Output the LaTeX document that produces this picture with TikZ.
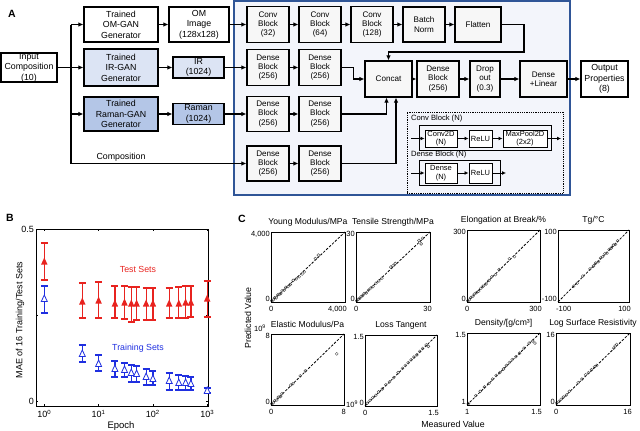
\documentclass[tikz,border=0pt]{standalone}
\usepackage{fontspec}
\setmainfont{Liberation Sans}
\usetikzlibrary{arrows.meta}
\definecolor{irfill}{HTML}{DCE4F4}
\definecolor{ramfill}{HTML}{B4C6E7}
\definecolor{bigfill}{HTML}{F3F5FB}
\definecolor{bigdraw}{HTML}{2F5597}
\definecolor{tred}{HTML}{E8231F}
\definecolor{tblue}{HTML}{1F2FE0}
\definecolor{blkfill}{HTML}{F7F7F7}
\newcommand\scatplot[8]{%
  \draw[diagl] (#1,#4) -- (#2,#3);
  \foreach \t/\s in {#8} {\draw[ptc] ({#1+\t*(#2-#1)},{#4-\s*(#4-#3)}) circle (1.5pt);}
  \draw[line width=0.9pt] (#1,#3) rectangle (#2,#4);
  \node[ttl] at ({(#1+#2)/2},{#3-10}) {#5};
  \node[tkl, anchor=east] at ({#1-1},{#3+2}) {#6};
  \node[tkl, anchor=east] at ({#1-1},{#4-3}) {#7};
  \node[tkl, anchor=west] at ({#1-2},{#4+7}) {#7};
  \node[tkl, anchor=east] at ({#2+2},{#4+7}) {#6};
}
\begin{document}
\begin{tikzpicture}[x=1pt,y=-1pt,
  box/.style={draw, line width=1.1pt, fill=white, align=center, inner sep=0pt, font=\fontsize{8.8}{10.6}\selectfont},
  blk/.style={draw, line width=1.1pt, fill=blkfill, align=center, inner sep=0pt, font=\fontsize{8.1}{9.4}\selectfont, minimum width=42pt, minimum height=36pt},
  sml/.style={draw, line width=1pt, fill=white, align=center, inner sep=0pt, font=\fontsize{7.5}{8.5}\selectfont, minimum height=17pt},
  arr/.style={line width=1.2pt, -{Latex[length=5pt,width=4.5pt]}},
  sarr/.style={line width=1pt, -{Latex[length=4pt,width=4pt]}},
  ln/.style={line width=1.2pt},
  lbl/.style={font=\bfseries\fontsize{10.5}{12}\selectfont, inner sep=0pt},
  diagl/.style={line width=0.8pt, dash pattern=on 2.5pt off 1.5pt},
  ptc/.style={draw=black!70, line width=0.4pt},
  ttl/.style={font=\fontsize{8.6}{10}\selectfont, inner sep=0pt},
  tkl/.style={font=\fontsize{7.5}{8}\selectfont, inner sep=0pt},
  axl/.style={font=\fontsize{9}{10}\selectfont, inner sep=0pt}]
\useasboundingbox (0,0) rectangle (640,431);

% ---------------- Panel A ----------------
\node[lbl] (lA) at (12,14) {A};
\node[box, minimum width=56pt, minimum height=29pt] (inp) at (29,67.5) {Input\\Composition\\(10)};
\node[box, minimum width=74pt, minimum height=35pt] (omgan) at (121,24.5) {Trained\\OM-GAN\\Generator};
\node[box, minimum width=60pt, minimum height=35pt] (omimg) at (199,24.5) {OM\\Image\\(128x128)};
\node[box, fill=irfill, minimum width=74pt, minimum height=37pt] (irgan) at (121,67.5) {Trained\\IR-GAN\\Generator};
\node[box, fill=irfill, minimum width=51pt, minimum height=21pt] (ir) at (198.5,67.5) {IR\\(1024)};
\node[box, fill=ramfill, minimum width=74pt, minimum height=34pt] (ramgan) at (121,114) {Trained\\Raman-GAN\\Generator};
\node[box, fill=ramfill, minimum width=51pt, minimum height=21pt] (raman) at (198.5,114) {Raman\\(1024)};

\node[draw=bigdraw, fill=bigfill, line width=2pt, minimum width=336pt, minimum height=194pt, inner sep=0pt] (big) at (402,98) {};

\node[blk] (c1) at (268,24.5) {Conv\\Block\\(32)};
\node[blk] (c2) at (320,24.5) {Conv\\Block\\(64)};
\node[blk] (c3) at (372,24.5) {Conv\\Block\\(128)};
\node[blk, minimum height=35pt] (bn) at (424,24.5) {Batch\\Norm};
\node[blk, minimum width=46pt, minimum height=35pt] (fl) at (478,24.5) {Flatten};
\node[blk] (d1a) at (268,67.5) {Dense\\Block\\(256)};
\node[blk] (d1b) at (320,67.5) {Dense\\Block\\(256)};
\node[blk, minimum height=35pt] (d2a) at (268,114) {Dense\\Block\\(256)};
\node[blk, minimum height=35pt] (d2b) at (320,114) {Dense\\Block\\(256)};
\node[blk, minimum height=35pt] (d3a) at (268,163.5) {Dense\\Block\\(256)};
\node[blk, minimum height=35pt] (d3b) at (320,163.5) {Dense\\Block\\(256)};
\node[blk, minimum width=47pt] (cc) at (388.5,79) {Concat};
\node[blk] (db) at (438,79) {Dense\\Block\\(256)};
\node[blk, minimum width=30pt] (dr) at (485,79) {Drop\\out\\(0.3)};
\node[blk, minimum width=47pt] (dl) at (543.5,79) {Dense\\+Linear};
\node[box, minimum width=47pt, minimum height=36pt] (out) at (604.5,79) {Output\\Properties\\(8)};

\coordinate (vt) at (71,24.5);
\coordinate (vb) at (71,163.5);
\draw[ln] (vt) -- (vb);
\draw[arr] (inp.east) -- (irgan.west);
\draw[arr] (vt) -- (omgan.west);
\draw[arr] (vt |- ramgan.west) -- (ramgan.west);
\draw[arr] (vb) -- (d3a.west);
\node[font=\fontsize{8.8}{10}\selectfont, inner sep=0pt] (comp) at (121,157) {Composition};
\draw[arr] (omgan) -- (omimg);
\draw[arr] (irgan) -- (ir);
\draw[arr] (ramgan) -- (raman);
\draw[arr] (omimg) -- (c1);
\draw[arr] (ir) -- (d1a);
\draw[arr] (raman) -- (d2a);
\draw[arr] (c1) -- (c2);
\draw[arr] (c2) -- (c3);
\draw[arr] (c3) -- (bn);
\draw[arr] (bn) -- (fl);
\coordinate (fk1) at (524,52);
\draw[arr] (fl.east) -| (fk1) -| (cc.north);
\draw[arr] (d1b.east) -- ++(12,0) |- (cc.west);
\draw[arr] (d2b.east) -| ([xshift=-2pt]cc.south);
\draw[arr] (d3b.east) -| ([xshift=7.5pt]cc.south);
\draw[arr] (d1a) -- (d1b);
\draw[arr] (d2a) -- (d2b);
\draw[arr] (d3a) -- (d3b);
\draw[arr] (cc) -- (db);
\draw[arr] (db) -- (dr);
\draw[arr] (dr) -- (dl);
\draw[arr] (dl) -- (out);

\node[draw, densely dotted, line width=0.8pt, minimum width=156pt, minimum height=81pt, inner sep=0pt] (dot) at (485,152.5) {};
\node[anchor=west, font=\fontsize{7.6}{8.5}\selectfont, inner sep=0pt] (cbl) at (411,119) {Conv Block (N)};
\node[draw, line width=1pt, minimum width=132pt, minimum height=25pt, inner sep=0pt] (cbo) at (485,137.5) {};
\node[sml, minimum width=32pt] (cv) at (441,138.5) {Conv2D\\(N)};
\node[sml, minimum width=23pt] (r1) at (480.5,138.5) {ReLU};
\node[sml, minimum width=44pt] (mp) at (525,138.5) {MaxPool2D\\(2x2)};
\coordinate (cin) at (411,138.5);
\coordinate (cout) at (561,138.5);
\draw[sarr] (cin) -- (cv);
\draw[sarr] (cv) -- (r1);
\draw[sarr] (r1) -- (mp);
\draw[sarr] (mp) -- (cout);
\node[anchor=west, font=\fontsize{7.6}{8.5}\selectfont, inner sep=0pt] (dbl) at (411,155) {Dense Block (N)};
\node[draw, line width=1pt, minimum width=81pt, minimum height=25pt, inner sep=0pt] (dbo) at (459.5,172.5) {};
\node[sml, minimum width=32pt, minimum height=20pt] (dn) at (441,173) {Dense\\(N)};
\node[sml, minimum width=23pt, minimum height=20pt] (r2) at (480.5,173) {ReLU};
\coordinate (din) at (411,173);
\coordinate (dout) at (506,173);
\draw[sarr] (din) -- (dn);
\draw[sarr] (dn) -- (r2);
\draw[sarr] (r2) -- (dout);

% ---------------- Panel B ----------------
\node[lbl] (lB) at (10,218) {B};
\draw[line width=0.8pt] (36,229) rectangle (208,406);
\foreach \yy in {229,315,401} {\draw[line width=0.6pt] (36,\yy) -- (38,\yy) (208,\yy) -- (206,\yy);}
\foreach \xx in {44.3,98.6,152.9,207.2} {\draw[line width=0.6pt] (\xx,406) -- (\xx,404) (\xx,229) -- (\xx,231);}
\node[axl, anchor=east] at (34,229) {0.5};
\node[axl, anchor=east] at (34,401) {0};
\node[axl] at (44.3,414) {10\textsuperscript{0}};
\node[axl] at (98.6,414) {10\textsuperscript{1}};
\node[axl] at (152.9,414) {10\textsuperscript{2}};
\node[axl] at (207.2,414) {10\textsuperscript{3}};
\node[axl, font=\fontsize{9.5}{11}\selectfont] at (121,426) {Epoch};
\node[axl, rotate=90] at (20,320) {MAE of 16 Training/Test Sets};
\node[axl, text=tred, font=\fontsize{8.8}{10}\selectfont] at (138,269) {Test Sets};
\node[axl, text=tblue, font=\fontsize{8.8}{10}\selectfont] at (138,348) {Training Sets};
\foreach \x/\m/\lo/\hi in {44.3/262/243/280, 82.3/302/283/318, 98.6/301/282/318, 114.9/304/286/318, 124.5/303/286/319, 131.3/304/287/322, 136.6/304/287/320, 146.1/304/288/320, 152.9/304/288/320, 169.2/304/288/318, 178.8/304/287/318, 185.6/303/286/318, 190.9/303/286/317, 207.2/299/281/317}{
  \draw[tred, line width=1.2pt] (\x,\lo) -- (\x,\hi) ({\x-3.5},\lo) -- ({\x+3.5},\lo) ({\x-3.5},\hi) -- ({\x+3.5},\hi);
  \fill[tred] (\x,{\m-4.5}) -- ({\x+3.2},{\m+2.5}) -- ({\x-3.2},{\m+2.5}) -- cycle;
}
\foreach \x/\m/\lo/\hi in {44.3/299/286/313, 82.3/354/345/362, 98.6/364/355/371, 114.9/369/361/377, 124.5/370/363/377, 131.3/373/365/382, 136.6/374/366/382, 146.1/377/369/385, 152.9/379/371/385, 169.2/381/373/390, 178.8/383/375/390, 185.6/383/376/390, 190.9/384/377/390, 207.2/391/388/393}{
  \draw[tblue, line width=1.2pt] (\x,\lo) -- (\x,\hi) ({\x-3.5},\lo) -- ({\x+3.5},\lo) ({\x-3.5},\hi) -- ({\x+3.5},\hi);
  \draw[tblue, fill=white, line width=0.8pt] (\x,{\m-4}) -- ({\x+3},{\m+2.5}) -- ({\x-3},{\m+2.5}) -- cycle;
}

% ---------------- Panel C ----------------
\node[lbl] (lC) at (242,219) {C};
\node[axl, rotate=90, font=\fontsize{8.8}{10}\selectfont] at (248,318) {Predicted Value};
\node[axl, font=\fontsize{8.8}{10}\selectfont] at (453,424) {Measured Value};

\scatplot{271}{345}{232}{302}{Young Modulus/MPa}{4,000}{0}{0.01/0.02,0.03/0.03,0.05/0.06,0.07/0.06,0.09/0.1,0.11/0.11,0.13/0.12,0.15/0.16,0.18/0.17,0.2/0.21,0.23/0.22,0.26/0.25,0.3/0.31,0.34/0.33,0.38/0.36,0.42/0.4,0.45/0.43,0.6/0.62,0.64/0.67}
\scatplot{356}{430}{232}{302}{Tensile Strength/MPa}{30}{0}{0.01/0.02,0.03/0.04,0.05/0.05,0.07/0.08,0.09/0.09,0.11/0.12,0.14/0.13,0.17/0.17,0.2/0.2,0.23/0.22,0.27/0.27,0.31/0.3,0.35/0.34,0.47/0.5,0.5/0.52,0.53/0.55,0.85/0.88,0.9/0.91,0.88/0.83}
\scatplot{467}{540}{230}{302}{Elongation at Break/\%}{300}{0}{0.01/0.02,0.03/0.03,0.05/0.06,0.08/0.08,0.1/0.11,0.13/0.13,0.16/0.15,0.19/0.19,0.22/0.22,0.26/0.25,0.3/0.3,0.34/0.35,0.39/0.38,0.44/0.45,0.58/0.6,0.65/0.63}
\scatplot{558}{629}{230}{302}{Tg/°C}{100}{-100}{0.22/0.22,0.27/0.26,0.35/0.36,0.45/0.46,0.5/0.5,0.53/0.54,0.57/0.56,0.6/0.61,0.63/0.63,0.66/0.67,0.69/0.68,0.72/0.73,0.75/0.75,0.78/0.79,0.81/0.8,0.84/0.85}
\scatplot{271}{344}{334}{405}{Elastic Modulus/Pa}{8}{0}{0.01/0.02,0.03/0.03,0.05/0.06,0.08/0.07,0.1/0.11,0.13/0.12,0.15/0.16,0.27/0.28,0.3/0.3,0.4/0.41,0.47/0.48,0.9/0.72}
\node[tkl] at (260,328) {10\textsuperscript{9}};
\node[tkl, anchor=west] at (346,404) {10\textsuperscript{9}};
\scatplot{365}{437}{335}{406}{Loss Tangent}{1.5}{0}{0.03/0.04,0.07/0.08,0.11/0.12,0.15/0.15,0.19/0.2,0.24/0.24,0.29/0.3,0.34/0.34,0.4/0.4,0.46/0.47,0.52/0.53,0.56/0.57,0.6/0.61,0.64/0.65,0.68/0.69,0.72/0.72,0.76/0.77,0.8/0.81,0.85/0.86,0.88/0.84}
\scatplot{467}{540}{333}{405}{Density/[g/cm³]}{1.5}{1}{0.02/0.02,0.12/0.13,0.18/0.19,0.24/0.25,0.3/0.3,0.35/0.36,0.4/0.41,0.45/0.45,0.5/0.5,0.54/0.55,0.58/0.59,0.62/0.63,0.67/0.67,0.72/0.72,0.78/0.79,0.85/0.86,0.9/0.89,0.93/0.86}
\scatplot{556}{630}{333}{405}{Log Surface Resistivity}{16}{0}{0.01/0.03,0.04/0.05,0.07/0.08,0.1/0.11,0.14/0.14,0.18/0.19,0.3/0.31,0.35/0.36,0.4/0.42,0.44/0.45,0.48/0.49,0.52/0.53,0.55/0.55,0.78/0.79,0.8/0.82,0.82/0.84}
\end{tikzpicture}
\end{document}
